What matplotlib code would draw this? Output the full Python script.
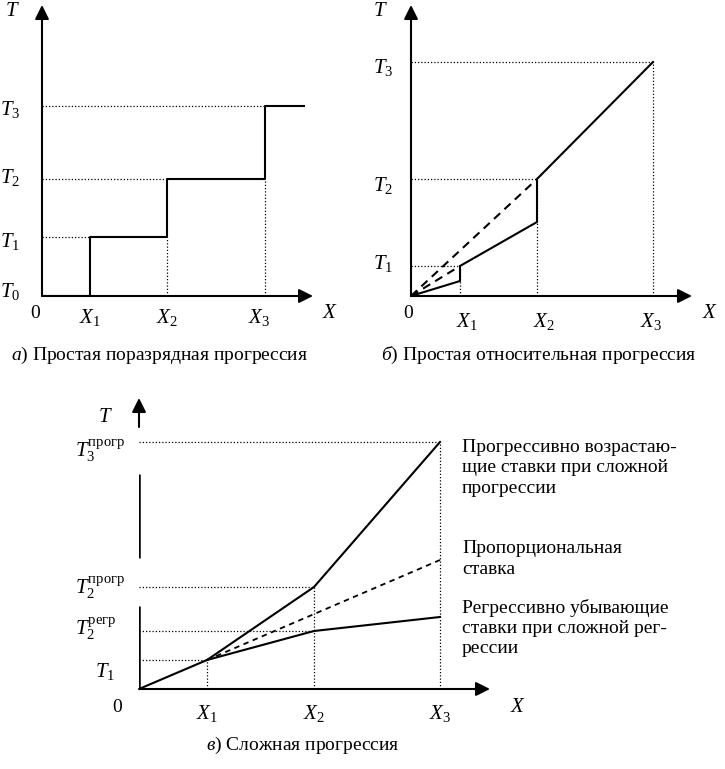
import matplotlib
matplotlib.use("Agg")
import matplotlib.pyplot as plt

plt.rcParams["font.family"] = ["Liberation Serif", "DejaVu Serif"]
plt.rcParams["mathtext.fontset"] = "custom"
plt.rcParams["mathtext.rm"] = "Liberation Serif"
plt.rcParams["mathtext.it"] = "Liberation Serif:italic"
plt.rcParams["mathtext.bf"] = "Liberation Serif:bold"

# --- panel a: simple step progression ---
xa = [4.8, 12.5, 22.3]
xa_end = 26.2
ta = [0.0, 5.9, 11.7, 19.0]

# --- panel b: simple relative progression ---
xb = [4.9, 12.6, 24.2]
tb = [3.0, 11.7, 23.4]
tb_low = [1.5, 7.4]

# --- panel c: complex progression ---
xc = [6.8, 17.5, 30.1]
tc1 = 2.9
tc_prog = [10.2, 24.7]
tc_regr = [5.8, 7.2]
tc_prop_end = 12.9

captions = [
    r"$\mathit{а}$) Простая поразрядная прогрессия",
    r"$\mathit{б}$) Простая относительная прогрессия",
    r"$\mathit{в}$) Сложная прогрессия",
]
notes = [
    "Прогрессивно возрастаю-\nщие ставки при сложной\nпрогрессии",
    "Пропорциональная\nставка",
    "Регрессивно убывающие\nставки при сложной рег-\nрессии",
]

W, H = 725, 769
FS = 14
MFS = 15
LW = 1.5
DOT = dict(color="black", lw=0.9, linestyle=(0, (1, 1.6)))
ARROW = dict(arrowstyle="-|>,head_length=0.6,head_width=0.3", color="black",
             lw=LW, mutation_scale=14, shrinkA=0, shrinkB=0)


def make_axes(fig, ox, oy, xmax, ymax):
    # ox, oy: origin in pixels; 10 px per data unit
    ax = fig.add_axes([ox / W, 1 - oy / H, xmax * 10 / W, ymax * 10 / H])
    ax.set_xlim(0, xmax)
    ax.set_ylim(0, ymax)
    ax.axis("off")
    return ax


def arrow(ax, x0, y0, x1, y1):
    ax.annotate("", xy=(x1, y1), xytext=(x0, y0), arrowprops=ARROW,
                annotation_clip=False)


def label(ax, x, y, s, ha="center", va="center", size=MFS):
    ax.text(x, y, s, ha=ha, va=va, fontsize=size, clip_on=False)


fig = plt.figure(figsize=(W / 100, H / 100), dpi=100)

# ---------------- panel a ----------------
ax = make_axes(fig, 42, 296, 27.1, 29.1)
arrow(ax, 0, 0, 27.1, 0)
arrow(ax, 0, 0, 0, 29.1)
for x, t in zip(xa, ta[1:]):
    ax.plot([0, x], [t, t], **DOT)
for x, t in zip(xa[1:], ta[1:3]):
    ax.plot([x, x], [0, t], **DOT)
ax.step([0] + xa + [xa_end], ta + [ta[-1]], where="post", color="black", lw=LW)
label(ax, -3.0, 28.4, "$T$")
for i, y in enumerate([0.5, 5.4, 11.9, 18.6]):
    label(ax, -2.2, y, f"$T_{i}$", ha="right")
label(ax, -0.7, -1.7, "0", size=FS)
for i, x in enumerate(xa):
    label(ax, x - (0.6 if i == 2 else 0), -2.2, f"$X_{i + 1}$")
label(ax, 28.8, -1.7, "$X$")
label(ax, 11.8, -5.9, captions[0], size=FS)

# ---------------- panel b ----------------
ax = make_axes(fig, 411, 296, 28.1, 29.1)
arrow(ax, 0, 0, 28.1, 0)
arrow(ax, 0, 0, 0, 29.1)
for x, t in zip(xb, tb):
    ax.plot([0, x], [t, t], **DOT)
    ax.plot([x, x], [0, t], **DOT)
ax.plot([0, xb[0], xb[0], xb[1], xb[1], xb[2]],
        [0, tb_low[0], tb[0], tb_low[1], tb[1], tb[2]], color="black", lw=LW)
for x, t in zip(xb[:2], tb[:2]):
    ax.plot([0, x], [0, t], color="black", lw=LW, linestyle=(0, (4, 2.8)))
label(ax, -3.1, 28.4, "$T$")
for i, y in enumerate([3.3, 11.1, 22.8]):
    label(ax, -1.8, y, f"$T_{i + 1}$", ha="right")
label(ax, -0.3, -1.7, "0", size=FS)
for i, x in enumerate(xb):
    label(ax, x + (0.7 if i < 2 else -0.2), -2.6, f"$X_{i + 1}$")
label(ax, 29.9, -1.7, "$X$")
label(ax, 12.8, -5.9, captions[1], size=FS)

# ---------------- panel c ----------------
ax = make_axes(fig, 139, 689, 35.1, 29.1)
arrow(ax, 0, 0, 35.1, 0)
arrow(ax, 0, 26.2, 0, 29.1)
for y0, y1 in [(0, 8.3), (13.1, 21.5)]:
    ax.plot([0, 0], [y0, y1], color="black", lw=1.8, solid_capstyle="butt")
ax.plot([0, xc[0]], [tc1, tc1], **DOT)
ax.plot([0, xc[1]], [tc_regr[0], tc_regr[0]], **DOT)
ax.plot([0, xc[1]], [tc_prog[0], tc_prog[0]], **DOT)
ax.plot([0, xc[2]], [tc_prog[1], tc_prog[1]], **DOT)
ax.plot([xc[0], xc[0]], [0, tc1], **DOT)
ax.plot([xc[1], xc[1]], [0, tc_prog[0]], **DOT)
ax.plot([xc[2], xc[2]], [0, tc_prog[1]], **DOT)
ax.plot([0] + xc, [0, tc1] + tc_prog, color="black", lw=LW)
ax.plot(xc, [tc1] + tc_regr, color="black", lw=LW)
ax.plot([xc[0], xc[2]], [tc1, tc_prop_end], color="black", lw=1.3,
        linestyle=(0, (3, 2.5)))
label(ax, -3.4, 27.2, "$T$")
label(ax, -6.4, 23.8, r"$T_3^{\mathrm{прогр}}$", ha="left")
label(ax, -6.4, 10.1, r"$T_2^{\mathrm{прогр}}$", ha="left")
label(ax, -6.4, 6.0, r"$T_2^{\mathrm{регр}}$", ha="left")
label(ax, -4.4, 1.8, "$T_1$", ha="left")
label(ax, -2.2, -1.9, "0", size=FS)
for i, x in enumerate(xc):
    label(ax, x, -2.4, f"$X_{i + 1}$")
label(ax, 37.9, -1.9, "$X$")
label(ax, 16.4, -5.6, captions[2], size=FS)
for y, s in zip([22.1, 13.0, 6.1], notes):
    ax.text(32.3, y, s, ha="left", va="center", fontsize=FS, linespacing=1.25,
            clip_on=False)

fig.savefig("out.png", dpi=100)
